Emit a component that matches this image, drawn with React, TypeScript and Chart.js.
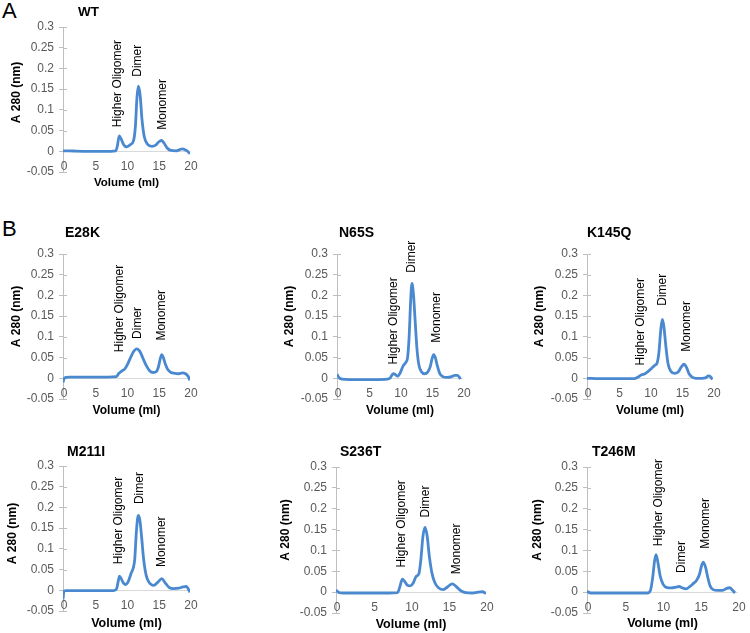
import React, { useEffect, useRef } from "react";
import { Chart, registerables } from "chart.js";

Chart.register(...registerables);

const FONT = '"Liberation Sans", Arial, Helvetica, sans-serif';
const LINE_COLOR = "#4a89d0";

// ---- axis ticks / labels ----
const Y_TICKS = [-0.05, 0, 0.05, 0.1, 0.15, 0.2, 0.25, 0.3];
const X_TICKS = [0, 5, 10, 15, 20];
const X_TITLE = "Volume (ml)";
const Y_TITLE = "A 280 (nm)";
const PEAK_NAMES = ["Higher Oligomer", "Dimer", "Monomer"];

// ---- traces: [volume (ml), A280] ----
const WT_TRACE = [
  [0, 0.001], [1, 0.001], [2, 0.0005], [4, 0], [6, 0], [7.5, 0], [8.3, 0.001], [8.55, 0.012],
  [8.85, 0.037], [9.15, 0.03], [9.55, 0.016], [10, 0.011], [10.6, 0.016], [11.1, 0.025],
  [11.4, 0.06], [11.65, 0.13], [11.87, 0.157], [12.15, 0.135], [12.45, 0.075], [12.8, 0.035],
  [13.3, 0.017], [14, 0.012], [14.6, 0.015], [15.1, 0.023], [15.5, 0.026], [15.9, 0.02],
  [16.4, 0.008], [17, 0.002], [17.8, 0.001], [18.4, 0.004], [18.8, 0.006], [19.3, 0.003],
  [19.7, -0.001], [20, -0.006],
];
const E28K_TRACE = [
  [0, -0.01], [0.2, 0.0], [0.5, 0.002], [1, 0.003], [3, 0.003], [5, 0.003], [7, 0.003],
  [8.4, 0.004], [8.8, 0.012], [9.3, 0.018], [9.7, 0.022], [10.2, 0.035], [10.7, 0.052],
  [11.1, 0.064], [11.6, 0.071], [12.1, 0.065], [12.6, 0.048], [13.1, 0.031], [13.6, 0.019],
  [14.2, 0.014], [14.7, 0.016], [15.0, 0.026], [15.3, 0.046], [15.55, 0.057], [15.8, 0.05],
  [16.1, 0.035], [16.5, 0.021], [17, 0.014], [17.6, 0.012], [18.2, 0.011], [18.8, 0.013],
  [19.3, 0.011], [19.7, 0.005], [20, -0.005],
];
const N65S_TRACE = [
  [0, 0.01], [0.3, 0.002], [0.8, -0.002], [2, -0.003], [4, -0.003], [6, -0.003], [8, -0.002],
  [8.5, 0.002], [8.9, 0.011], [9.2, 0.01], [9.6, 0.005], [10.0, 0.012], [10.5, 0.03],
  [10.9, 0.038], [11.2, 0.05], [11.45, 0.1], [11.7, 0.19], [11.9, 0.229], [12.15, 0.2],
  [12.4, 0.14], [12.7, 0.07], [13.0, 0.032], [13.4, 0.016], [13.9, 0.011], [14.4, 0.015],
  [14.8, 0.028], [15.1, 0.048], [15.35, 0.057], [15.6, 0.05], [15.9, 0.032], [16.3, 0.012],
  [16.8, 0.004], [17.5, 0.002], [18.2, 0.004], [18.7, 0.007], [19.1, 0.007], [19.4, 0.003],
  [19.6, -0.002],
];
const K145Q_TRACE = [
  [0, 0], [2, -0.001], [4, -0.001], [6, -0.001], [7.5, -0.001], [8.1, 0.003], [8.6, 0.008],
  [9.2, 0.011], [9.8, 0.018], [10.3, 0.025], [10.8, 0.032], [11.1, 0.036], [11.4, 0.06],
  [11.7, 0.115], [11.95, 0.142], [12.2, 0.125], [12.5, 0.08], [12.85, 0.036], [13.3, 0.017],
  [13.9, 0.012], [14.5, 0.016], [15.0, 0.028], [15.4, 0.034], [15.8, 0.026], [16.2, 0.011],
  [16.7, 0.003], [17.3, 0], [18.2, 0], [18.8, 0.001], [19.3, 0.006], [19.6, 0.004],
  [19.9, -0.003],
];
const M211I_TRACE = [
  [0, -0.022], [0.15, -0.002], [0.5, -0.001], [2, -0.001], [4, -0.001], [6, -0.001],
  [8, -0.001], [8.45, 0.004], [8.7, 0.022], [8.9, 0.034], [9.2, 0.027], [9.5, 0.018],
  [9.9, 0.014], [10.3, 0.022], [10.7, 0.04], [11.1, 0.056], [11.3, 0.075], [11.55, 0.14],
  [11.85, 0.181], [12.1, 0.17], [12.4, 0.125], [12.7, 0.075], [13.1, 0.036], [13.6, 0.018],
  [14.3, 0.012], [14.9, 0.019], [15.55, 0.028], [16.1, 0.018], [16.7, 0.007], [17.4, 0.004],
  [18.2, 0.005], [18.9, 0.008], [19.4, 0.0095], [19.7, 0.004], [20, -0.005],
];
const S236T_TRACE = [
  [0, 0.005], [0.4, -0.001], [1, -0.002], [3, -0.002], [5, -0.002], [7, -0.002],
  [8.2, -0.001], [8.5, 0.012], [8.85, 0.031], [9.1, 0.027], [9.5, 0.017], [9.9, 0.015],
  [10.3, 0.022], [10.7, 0.038], [11.05, 0.044], [11.3, 0.075], [11.6, 0.135], [11.87, 0.155],
  [12.15, 0.135], [12.45, 0.085], [12.8, 0.045], [13.2, 0.022], [13.7, 0.01], [14.3, 0.006],
  [14.9, 0.013], [15.5, 0.02], [16.0, 0.014], [16.6, 0.004], [17.3, -0.001], [18.2, -0.002],
  [18.9, 0], [19.5, 0.001], [20, -0.003],
];
const T246M_TRACE = [
  [0, 0.002], [0.5, -0.002], [2, -0.002], [4, -0.002], [6, -0.002], [8, -0.002], [8.4, 0.004],
  [8.7, 0.035], [8.95, 0.075], [9.15, 0.09], [9.4, 0.07], [9.7, 0.038], [10.1, 0.018],
  [10.6, 0.011], [11.2, 0.01], [11.8, 0.012], [12.2, 0.0135], [12.6, 0.0105], [13.1, 0.008],
  [13.6, 0.013], [14.1, 0.021], [14.5, 0.028], [14.9, 0.043], [15.2, 0.065], [15.4, 0.072],
  [15.7, 0.06], [16.0, 0.035], [16.3, 0.015], [16.7, 0.006], [17.3, 0.004], [17.9, 0.004],
  [18.5, 0.009], [18.9, 0.0105], [19.25, 0.005], [19.6, -0.002],
];

// ---- peak label anchors [volume, A280] (order = PEAK_NAMES) ----
const WT_PEAK_LABELS = [[8.65, 0.058], [11.7, 0.18], [15.7, 0.052]];
const E28K_PEAK_LABELS = [[8.9, 0.063], [11.7, 0.095], [15.5, 0.091]];
const N65S_PEAK_LABELS = [[9.0, 0.033], [11.9, 0.255], [15.8, 0.086]];
const K145Q_PEAK_LABELS = [[8.6, 0.031], [12.0, 0.175], [15.75, 0.064]];
const M211I_PEAK_LABELS = [[8.8, 0.063], [12.0, 0.208], [15.6, 0.056]];
const S236T_PEAK_LABELS = [[8.75, 0.059], [11.9, 0.179], [16.1, 0.043]];
const T246M_PEAK_LABELS = [[9.55, 0.11], [12.55, 0.046], [15.7, 0.104]];

// ---- layout (page pixels of each plot area) ----
type Layout = {
  L: number; T: number; R: number; B: number;
  tDx: number; tDy: number; tSize: number;
  yDx: number; yDy: number;
  xSize: number; xDy: number;
};

const PANELS: { name: string; trace: number[][]; peaks: number[][]; lay: Layout }[] = [
  { name: "WT", trace: WT_TRACE, peaks: WT_PEAK_LABELS,
    lay: { L: 63, T: 27, R: 190, B: 172, tDx: 15, tDy: -15, tSize: 13.5, yDx: -46, yDy: -7, xSize: 11.5, xDy: 11 } },
  { name: "E28K", trace: E28K_TRACE, peaks: E28K_PEAK_LABELS,
    lay: { L: 63, T: 254, R: 190, B: 399, tDx: 2, tDy: -21, tSize: 14, yDx: -46, yDy: -10, xSize: 12, xDy: 12 } },
  { name: "N65S", trace: N65S_TRACE, peaks: N65S_PEAK_LABELS,
    lay: { L: 337, T: 254, R: 463, B: 399, tDx: 2, tDy: -21, tSize: 14, yDx: -47, yDy: -10, xSize: 12, xDy: 12 } },
  { name: "K145Q", trace: K145Q_TRACE, peaks: K145Q_PEAK_LABELS,
    lay: { L: 587, T: 254, R: 713, B: 399, tDx: 0, tDy: -21, tSize: 14, yDx: -47, yDy: -10, xSize: 12, xDy: 12 } },
  { name: "M211I", trace: M211I_TRACE, peaks: M211I_PEAK_LABELS,
    lay: { L: 63, T: 466, R: 190, B: 611, tDx: 4, tDy: -14, tSize: 14, yDx: -50, yDy: -5, xSize: 12.5, xDy: 13 } },
  { name: "S236T", trace: S236T_TRACE, peaks: S236T_PEAK_LABELS,
    lay: { L: 336, T: 467, R: 486, B: 613, tDx: 4, tDy: -15, tSize: 14, yDx: -50, yDy: -10, xSize: 12.5, xDy: 12 } },
  { name: "T246M", trace: T246M_TRACE, peaks: T246M_PEAK_LABELS,
    lay: { L: 587, T: 467, R: 738, B: 613, tDx: 5, tDy: -15, tSize: 14, yDx: -49, yDy: -10, xSize: 12.5, xDy: 11 } },
];

const Y_AXIS_W = 58;
const PAD_RIGHT = 8;
const PAD_BOTTOM = 22;
const TICK_FONT_SIZE = 12;

function fmt(v: number) {
  return String(+Number(v).toFixed(2));
}

function Panel({ name, trace, peaks, lay }: { name: string; trace: number[][]; peaks: number[][]; lay: Layout }) {
  const ref = useRef<HTMLCanvasElement | null>(null);
  const left = lay.L - Y_AXIS_W;
  const top = Math.max(0, lay.T - 30);
  const width = lay.R - lay.L + Y_AXIS_W + PAD_RIGHT;
  const height = lay.B + PAD_BOTTOM - top;

  useEffect(() => {
    if (!ref.current) return;
    const deco = {
      id: "deco",
      beforeDatasetsDraw(chart: any) {
        const { ctx, chartArea, scales } = chart;
        const xs = scales.x;
        const ys = scales.y;
        const y0 = Math.round(ys.getPixelForValue(0)) + 0.5;
        ctx.save();
        ctx.lineWidth = 1;
        ctx.strokeStyle = "#d9d9d9";
        ctx.beginPath();
        ctx.moveTo(chartArea.left, y0);
        ctx.lineTo(chartArea.right, y0);
        ctx.stroke();
        ctx.strokeStyle = "#bfbfbf";
        Y_TICKS.forEach((v) => {
          const py = Math.round(ys.getPixelForValue(v)) + 0.5;
          ctx.beginPath();
          ctx.moveTo(chartArea.left, py);
          ctx.lineTo(chartArea.left + 4, py);
          ctx.stroke();
        });
        ctx.fillStyle = "#595959";
        ctx.font = `${TICK_FONT_SIZE}px ${FONT}`;
        ctx.textAlign = "center";
        ctx.textBaseline = "middle";
        X_TICKS.forEach((v) => {
          ctx.fillText(String(v), xs.getPixelForValue(v) + 1, y0 + 15);
        });
        ctx.restore();
      },
      afterDraw(chart: any) {
        const { ctx, chartArea, scales } = chart;
        const xs = scales.x;
        const ys = scales.y;
        ctx.save();
        ctx.fillStyle = "#000";
        // panel title
        ctx.font = `bold ${lay.tSize}px ${FONT}`;
        ctx.textAlign = "left";
        ctx.textBaseline = "middle";
        ctx.fillText(name, chartArea.left + lay.tDx, chartArea.top + lay.tDy);
        // x title
        ctx.font = `bold ${lay.xSize}px ${FONT}`;
        ctx.textAlign = "center";
        ctx.fillText(X_TITLE, (chartArea.left + chartArea.right) / 2, chartArea.bottom + lay.xDy);
        // y title
        ctx.save();
        ctx.font = `bold 12px ${FONT}`;
        ctx.translate(chartArea.left + lay.yDx, (chartArea.top + chartArea.bottom) / 2 + lay.yDy);
        ctx.rotate(-Math.PI / 2);
        ctx.fillText(Y_TITLE, 0, 0);
        ctx.restore();
        // peak labels
        ctx.font = `12px ${FONT}`;
        peaks.forEach((p, i) => {
          ctx.save();
          ctx.translate(xs.getPixelForValue(p[0]), ys.getPixelForValue(p[1]));
          ctx.rotate(-Math.PI / 2);
          ctx.textAlign = "left";
          ctx.textBaseline = "middle";
          ctx.fillText(PEAK_NAMES[i], 0, 0);
          ctx.restore();
        });
        ctx.restore();
      },
    };

    const chart = new Chart(ref.current, {
      type: "line",
      data: {
        datasets: [
          {
            data: trace.map((p) => ({ x: p[0], y: p[1] })),
            borderColor: LINE_COLOR,
            borderWidth: 2.8,
            pointRadius: 0,
            fill: false,
            cubicInterpolationMode: "monotone",
          },
        ],
      },
      options: {
        animation: false,
        responsive: false,
        devicePixelRatio: 1,
        layout: { padding: { top: lay.T - top, left: 0, right: PAD_RIGHT, bottom: PAD_BOTTOM } },
        plugins: { legend: { display: false }, tooltip: { enabled: false }, title: { display: false } },
        scales: {
          x: { type: "linear", min: 0, max: 20, display: false },
          y: {
            type: "linear",
            min: -0.05,
            max: 0.3,
            afterBuildTicks: (s: any) => {
              s.ticks = Y_TICKS.map((v) => ({ value: v }));
            },
            afterFit: (s: any) => {
              s.width = Y_AXIS_W;
            },
            ticks: {
              callback: (v: any) => fmt(v),
              color: "#595959",
              font: { family: FONT, size: TICK_FONT_SIZE },
              padding: 5,
            },
            grid: { drawOnChartArea: false, drawTicks: true, tickLength: 4, color: "#bfbfbf" },
            border: { display: true, color: "#bfbfbf" },
          },
        },
      } as any,
      plugins: [deco],
    });
    return () => chart.destroy();
  }, []);

  return (
    <canvas
      ref={ref}
      width={width}
      height={height}
      style={{ position: "absolute", left, top, width, height, display: "block" }}
    />
  );
}

export default function App() {
  return (
    <div
      style={{
        position: "absolute",
        left: 0,
        top: 0,
        width: 750,
        height: 633,
        overflow: "hidden",
        background: "#fff",
      }}
    >
      <div style={{ position: "absolute", left: 2, top: 0, font: `22px/22px ${FONT}`, color: "#000" }}>A</div>
      <div style={{ position: "absolute", left: 2, top: 218, font: `22px/22px ${FONT}`, color: "#000" }}>B</div>
      {PANELS.map((p) => (
        <Panel key={p.name} name={p.name} trace={p.trace} peaks={p.peaks} lay={p.lay} />
      ))}
    </div>
  );
}
